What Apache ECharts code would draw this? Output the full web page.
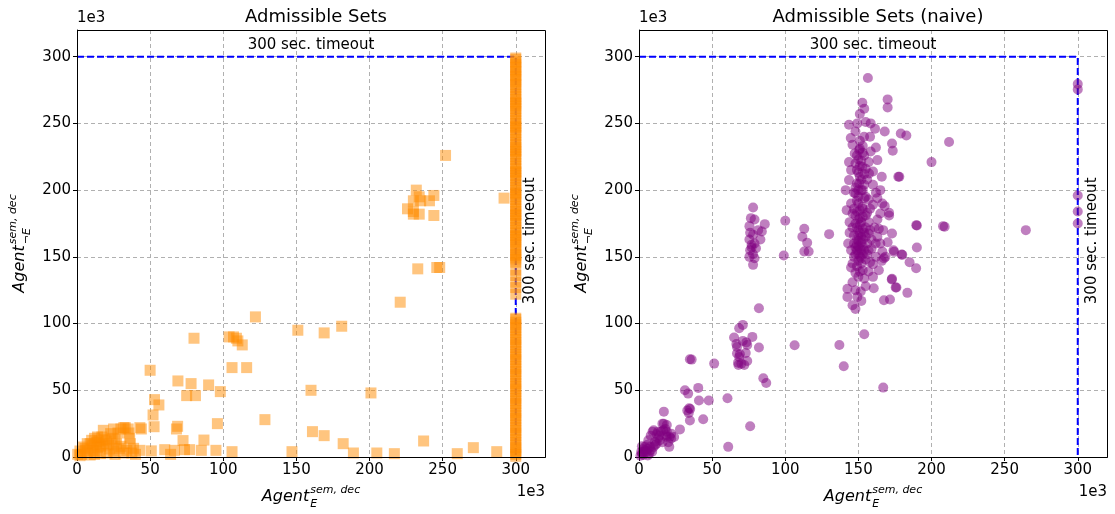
<!DOCTYPE html>
<html>
<head>
<meta charset="utf-8">
<script src="https://cdn.jsdelivr.net/npm/echarts@6/dist/echarts.min.js"></script>
<style>
  html, body { margin: 0; padding: 0; background: #fff; }
  #chart { width: 1115px; height: 514px; }
</style>
</head>
<body>
<div id="chart"></div>
<script>
// ---- data (times in thousands) ----
const tickValues = [0, 50, 100, 150, 200, 250, 300];
const axisMax = 320;
const timeoutLimit = 300;
const panelTitles = ['Admissible Sets', 'Admissible Sets (naive)'];
const timeoutText = '300 sec. timeout';
const scaleText = '1e3';

// admissible sets: [Agent_E, Agent_notE]
const setsPoints = [
  [0.5,2],[2,4.5],[3,2],[5.5,6.5],[7,3],[7,10],[9,10],[4,7.5],[11,9],[11,5],[13.5,11],[13.5,4.5],
  [16,8],[14,15],[16,2.5],[18,10],[18,20],[19,13],[20.5,3],[21.5,9],[23,17.5],[24,14],[25,21],
  [25,4.5],[27,10],[28,18],[29,6.5],[30,21],[32,22],[32,3],[33,22],[35,21],[35.5,18],[36.5,10],
  [36,14],[37.5,3],[38.7,6.5],[43,5],[43,22],[10,12.5],[12,14],[15,12],[17,15],[20,12],[22,6],
  [26,13],[30,8],[34,5],[6,5],[9,1.5],[12,2],[14,7],[26,2],[2,1],[40,2],
  [50.8,4.6],[52,31.5],[52.7,22.7],[44,21],[53,43],[56,39],[50,65],[60,5.5],[64,2],[66.6,5],
  [68.8,23],[68,21],[69,57],[72.5,12.3],[73.5,5.5],[77,5.5],[75,46],[78,55],[80,89],[81,46],
  [85,5],[86.8,12.7],[90,54],[95,5],[96,25],[98,49],[104,90],[106,4],[106,67],[107,90],[109,89],
  [110,87],[113,84],[116,67],[122,105],[128.5,28],[147,4],[151,95],[160,50],[161,19],[169,16],
  [169,93],[181,98],[182,10],[189,3],[201,48],[205,3],[217,2.5],[221,116],[226,186],[230,192],
  [230,184],[230,182],[232,200],[233,141],[234,195],[234,182],[235,192],[237,12],[241,192],
  [244,196],[244,181],[246,142],[248,142],[252,226],[260,2.5],[271,7],[287,4],[292,194]
];

// admissible sets that ran into the timeout on the Agent_E side (y values)
const setsTimeoutY = [
  299,298,296,294,292,290,289,286,285,283,281,279,277,275,272,270,268,266,265,263,261,259,257,
  254,252,250,248,247,245,243,241,238,236,234,232,230,229,227,225,223,220,218,216,214,213,211,
  209,207,204,202,200,198,197,195,193,191,188,186,184,182,181,179,177,175,172,170,168,166,165,
  163,161,159,157,155,152,151,149,148,146,140,136,131,127,122,
  104,103,101,99,97,95,93,90,88,86,84,82,79,77,75,73,71,68,66,64,62,60,57,55,53,51,49,46,44,42,
  40,38,35,33,31,29,27,24,22,20,18,16,13,11,9,7,5,3,2,0.5
];

// naive admissible sets: [Agent_E, Agent_notE]
const naivePoints = [
  [1,1],[2,2.5],[1.5,4],[3,3.8],[3,6],[4,5],[4,7.6],[5.5,9],[6.4,12.6],[7,2.5],[7.5,7.6],[8,5],
  [8,16],[9.3,19],[10,7.5],[10,20],[10.9,11.4],[12,10],[13,14],[13,19],[14.3,12.6],[15,19],[16,11],
  [16,25],[16.6,20],[17,34],[17,25],[18,21],[18.6,16.4],[19,15],[19,19],[19,24],[20.7,7.6],[21,15],
  [22,13.9],[22,17.5],[24,15],[28,20.7],[2,8],[5,4],[6,6],[9,4],[11,9],[3,1.5],[6,1.2],[14,16],
  [12,17],[20,11],
  [31.4,50],[33.6,47.5],[33,34.8],[34.3,36.6],[35,36],[34,33],[34.8,27.3],[34.8,73.2],[36,73],
  [40.5,51.8],[41,42.4],[43.9,28.3],[47.7,42.4],[51.4,70],[60.5,44],[61,7.6],[76,23],
  [65,89.5],[66.6,84.6],[67,82.5],[67,77.5],[67.7,70.7],[68,69],[68.5,96.5],[68.5,75],[69,77],
  [70,70],[71,99],[71,87],[72,69],[73,78],[73.4,85.9],[74,84],[74,72],[77.5,90],[82,82],[85,59],
  [87,55.5],[106.4,83.8],[137,84],[140,68],[154,92],[167,52],[82,111.5],
  [78,187],[76.5,179],[79,178],[86,174.5],[75.5,173],[81.5,170],[78,166.5],[84,169],[75.5,163],
  [83,163],[77,159],[80,156.5],[76,155],[78,152],[75.5,150],[79,149],[78,144],[77,157],[79,160],
  [76,168],
  [100,177],[99,151],[113,171],[111.7,165],[115,160.5],[113,154],[116,154],[130,167],
  [212,236],[200,221],[178,210],[190,173.5],[209,172.5],[264.5,170],[190,157],[300,196],[300,184],
  [300,175],[300,279.5],[300,275.5],[185,146],[189.5,141.5],[180,151.5],[174,155],[168.5,150],
  [173,133.5],[176,127],[183.5,123],[167.5,117.5],[171.6,118],[160.5,126.5],[160,144.5],[173,235],
  [173.5,229.5],[179,242.5],[182.8,241],[156.5,284],[170,268],[170,262],[152.7,265.5],[154,261],
  [151,257],[143.6,249],[149.3,250],[155,251],[158.4,250],[161.4,246],[168,244],[144.8,239],
  [153.9,240],[177.3,210],[189.6,173.75],[207.9,173],[174.4,153.75],[179.6,151.75],[167.5,149],
  [172.8,133],[175.5,127],[165,182.5],[171,181],[173,167.5],[164,171],[170,161],[166.4,154],
  [157,167.5],[161.8,160],
  [150.5,230],[147.5,227.5],[154,226],[158.4,229],[143.6,221],[163,222.5],[145,215],[152.7,217.5],
  [157.3,212.5],[143.6,207.5],[150.5,205],[160,204],[141.3,200],[148,197.5],[155,195],[163,194],
  [145,190],[152.7,187.5],[160,189],[166.4,190],[171,183],[146,182.5],[155,181],[154,133.75],
  [146,131],[142.5,126],[142.5,120],[146,113.75],[149.3,120],[151.6,124],[148,125],
  [148,175],[150,170],[152,165],[147,160],[149,155],[151,150],[146,145],[153,140],[148,138],
  [150,178],[155,172],[157,176],[153,158],[156,152],[158,146],[144,168],[145,155],[149,163],
  [152,145],[147,150],[151,185],[149,192],[153,200],[156,208],[150,213],[148,220],[153,233],
  [151,237],[146,234],[157,221],[160,214],[162,198],[158,186],[161,172],[163,165],[159,156],
  [162,150],[144,176],[142,185],[143,160],[145,142],[150,135],[155,128],[152,117],[148,111],
  [157,139],[160,135],[164,140],[166,147],[165,160],[167,170],[163,178],[168,188],[165,200],
  [166,210],[162,232],[158,240],[148,244],[150,162],[154,168],[152,176],[148,181],[150,190],
  [154,194],[152,200],[149,205],[151,210],[155,216],[150,223],[153,228],[147,198],[156,160],
  [157,155],[150,147],[153,152],[148,157],[151,168],
  [149,172],[151,174],[153,171],[150,166],[152,161],[149,159],[151,156],[154,155],[150,152],
  [152,149],[148,152],[150,158],[153,163],[151,179],[149,184],[153,186],[150,195],[152,208],
  [151,218],[149,226],[152,222],[154,212],[150,200],[148,202],[153,180],[155,165],[147,166],
  [149,143],[151,139],[152,155],[146,172],[156,183],[158,170],[155,148],[149,215],[151,231],
  [147,186],[154,204],[159,163],[157,193]
];

// ---- chart ----
const FONT = '"DejaVu Sans", sans-serif';
const panels = [
  { left: 77, top: 30, width: 468, height: 427 },
  { left: 639, top: 30, width: 468, height: 427 }
];

const timeoutPath = [[0, timeoutLimit], [timeoutLimit, timeoutLimit], [timeoutLimit, 0]];

function makeAxis(i) {
  return {
    type: 'value', gridIndex: i, min: 0, max: axisMax, interval: 50,
    axisLine: { show: true, onZero: false, lineStyle: { color: '#000', width: 1 } },
    axisTick: { show: true, customValues: tickValues, length: 4, lineStyle: { color: '#000', width: 1 } },
    axisLabel: { customValues: tickValues, color: '#000', fontSize: 15, fontFamily: FONT, margin: 6 },
    splitLine: { show: true, lineStyle: { color: '#b0b0b0', width: 1, type: [4, 3] } }
  };
}

const chart = echarts.init(document.getElementById('chart'), null, { renderer: 'canvas' });

chart.setOption({
  animation: false,
  backgroundColor: '#fff',
  title: panelTitles.map((t, i) => ({
    text: t,
    left: panels[i].left + panels[i].width / 2,
    top: 3,
    textAlign: 'center',
    textStyle: { fontFamily: FONT, fontSize: 18, fontWeight: 'normal', color: '#000' }
  })),
  grid: panels.map(p => Object.assign({ show: false, containLabel: false }, p)),
  xAxis: [makeAxis(0), makeAxis(1)],
  yAxis: [makeAxis(0), makeAxis(1)],
  series: [
    {
      type: 'line', xAxisIndex: 0, yAxisIndex: 0, data: timeoutPath,
      showSymbol: false, symbol: 'none', silent: true, z: 1,
      lineStyle: { color: '#0000ff', width: 2, type: [7, 3] }
    },
    {
      type: 'scatter', xAxisIndex: 0, yAxisIndex: 0, z: 2,
      data: setsPoints.concat(setsTimeoutY.map(y => [timeoutLimit, y])),
      symbol: 'rect', symbolSize: 11,
      itemStyle: { color: '#ff8c00', opacity: 0.5 }
    },
    {
      type: 'line', xAxisIndex: 1, yAxisIndex: 1, data: timeoutPath,
      showSymbol: false, symbol: 'none', silent: true, z: 1,
      lineStyle: { color: '#0000ff', width: 2, type: [7, 3] }
    },
    {
      type: 'scatter', xAxisIndex: 1, yAxisIndex: 1, z: 2,
      data: naivePoints,
      symbol: 'circle', symbolSize: 10,
      itemStyle: { color: '#800080', opacity: 0.5 }
    }
  ]
});

// ---- annotations, frame and math axis titles ----
const measureCtx = document.createElement('canvas').getContext('2d');
function textWidth(str, size) {
  measureCtx.font = 'italic ' + size + 'px "DejaVu Sans"';
  return measureCtx.measureText(str).width;
}

function mathLabel(base, sup, sub, x, y, rotation) {
  const bs = 16, ss = 11;
  const wb = textWidth(base, bs);
  const ws = Math.max(textWidth(sup, ss), textWidth(sub, ss));
  const x0 = -(wb + 1 + ws) / 2;
  const font = s => 'italic ' + s + 'px ' + FONT;
  return {
    type: 'group', x: x, y: y, rotation: rotation, silent: true, z: 100,
    children: [
      { type: 'text', x: x0, y: 0, style: { text: base, font: font(bs), fill: '#000', align: 'left', verticalAlign: 'middle' } },
      { type: 'text', x: x0 + wb + 1, y: -7, style: { text: sup, font: font(ss), fill: '#000', align: 'left', verticalAlign: 'middle' } },
      { type: 'text', x: x0 + wb + 1, y: 7, style: { text: sub, font: font(ss), fill: '#000', align: 'left', verticalAlign: 'middle' } }
    ]
  };
}

const graphics = [];
panels.forEach((p, i) => {
  const top = chart.convertToPixel({ gridIndex: i }, [160, timeoutLimit]);
  const side = chart.convertToPixel({ gridIndex: i }, [310, 162]);
  graphics.push(
    { type: 'rect', silent: true, z: 100,
      shape: { x: p.left + 0.5, y: p.top + 0.5, width: p.width, height: p.height },
      style: { fill: 'none', stroke: '#000', lineWidth: 1 } },
    { type: 'text', x: top[0], y: top[1] - 4, silent: true, z: 100,
      style: { text: timeoutText, font: '15px ' + FONT, fill: '#000', align: 'center', verticalAlign: 'bottom' } },
    { type: 'text', x: side[0], y: side[1], rotation: Math.PI / 2, silent: true, z: 100,
      style: { text: timeoutText, font: '15px ' + FONT, fill: '#000', align: 'center', verticalAlign: 'middle' } },
    { type: 'text', x: p.left, y: p.top - 4, silent: true, z: 100,
      style: { text: scaleText, font: '15px ' + FONT, fill: '#000', align: 'left', verticalAlign: 'bottom' } },
    { type: 'text', x: p.left + p.width, y: p.top + p.height + 28, silent: true, z: 100,
      style: { text: scaleText, font: '15px ' + FONT, fill: '#000', align: 'right', verticalAlign: 'top' } },
    mathLabel('Agent', 'sem, dec', 'E', p.left + p.width / 2, p.top + p.height + 40, 0),
    mathLabel('Agent', 'sem, dec', '\u00acE', p.left - 57, p.top + p.height / 2, Math.PI / 2)
  );
});
chart.setOption({ graphic: graphics });
</script>
</body>
</html>
